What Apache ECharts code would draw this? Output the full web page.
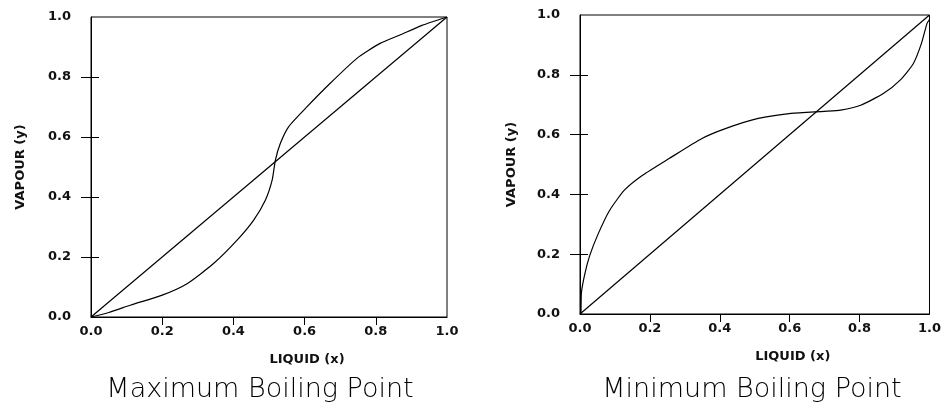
<!DOCTYPE html>
<html>
<head>
<meta charset="utf-8">
<script src="https://cdn.jsdelivr.net/npm/echarts@6/dist/echarts.min.js"></script>
<style>html,body{margin:0;padding:0;background:#fff;}#c{width:944px;height:411px;}</style>
</head>
<body>
<div id="c"></div>
<script>
// ---- data ----
const tickValues = [0, 0.2, 0.4, 0.6, 0.8, 1.0];
const diagonalX = [0, 1];
const diagonalY = [0, 1];
// Maximum boiling point (left)
const maxX = [0, 0.05, 0.112, 0.2, 0.271, 0.345, 0.411, 0.457, 0.49, 0.509, 0.518, 0.532, 0.555, 0.607, 0.672, 0.747, 0.812, 0.868, 0.93, 1];
const maxY = [0, 0.015, 0.04, 0.073, 0.112, 0.179, 0.257, 0.323, 0.39, 0.457, 0.523, 0.579, 0.634, 0.701, 0.779, 0.862, 0.912, 0.94, 0.972, 1];
// Minimum boiling point (right)
const minX = [0.003, 0.004, 0.014, 0.028, 0.052, 0.085, 0.127, 0.179, 0.255, 0.349, 0.416, 0.51, 0.604, 0.699, 0.746, 0.803, 0.869, 0.916, 0.954, 0.977, 0.993, 1];
const minY = [0, 0.07, 0.135, 0.196, 0.268, 0.347, 0.414, 0.464, 0.52, 0.587, 0.62, 0.654, 0.671, 0.678, 0.682, 0.698, 0.738, 0.782, 0.838, 0.905, 0.972, 0.985];
const titles = ['Maximum Boiling Point', 'Minimum Boiling Point'];
const xName = 'LIQUID (x)';
const yName = 'VAPOUR (y)';

const zip = (a, b) => a.map((v, i) => [v, b[i]]);
const FONT = 'DejaVu Sans';
const innerTicks = [0.2, 0.4, 0.6, 0.8];

function xAxes(gi, nameShift) {
  return [{
    type: 'value', gridIndex: gi, min: 0, max: 1, interval: 0.2,
    axisLine: {lineStyle: {color: '#000', width: 1}},
    axisTick: {show: true, inside: false, length: 4, customValues: innerTicks, lineStyle: {color: '#000'}},
    axisLabel: {color: '#111', fontFamily: FONT, fontSize: 13, fontWeight: 'bold', margin: 8,
      formatter: v => v.toFixed(1)},
    splitLine: {show: false},
    name: xName, nameLocation: 'middle', nameGap: 36,
    nameTextStyle: {color: '#111', fontFamily: FONT, fontSize: 13, fontWeight: 'bold', padding: [0, 0, 0, nameShift]}
  }, {
    type: 'value', gridIndex: gi, min: 0, max: 1, interval: 0.2,
    axisLine: {show: false},
    axisTick: {show: true, inside: true, length: 8, customValues: innerTicks, lineStyle: {color: '#000'}},
    axisLabel: {show: false}, splitLine: {show: false}
  }];
}
function yAxes(gi, gap) {
  return [{
    type: 'value', gridIndex: gi, min: 0, max: 1, interval: 0.2, position: 'left',
    axisLine: {show: true, lineStyle: {color: '#000', width: 1}},
    axisTick: {show: true, inside: false, length: 10, customValues: innerTicks, lineStyle: {color: '#000'}},
    axisLabel: {color: '#111', fontFamily: FONT, fontSize: 13, fontWeight: 'bold', margin: 20,
      formatter: v => v.toFixed(1)},
    splitLine: {show: false},
    name: yName, nameLocation: 'middle', nameGap: gap, nameRotate: 90,
    nameTextStyle: {color: '#111', fontFamily: FONT, fontSize: 13, fontWeight: 'bold'}
  }, {
    type: 'value', gridIndex: gi, min: 0, max: 1, interval: 0.2, position: 'left',
    axisLine: {show: false},
    axisTick: {show: true, inside: true, length: 8, customValues: innerTicks, lineStyle: {color: '#000'}},
    axisLabel: {show: false}, splitLine: {show: false}
  }];
}

const lineStyle = {color: '#000', width: 1.2};
const chart = echarts.init(document.getElementById('c'), null, {renderer: 'canvas'});
chart.setOption({
  animation: false,
  backgroundColor: '#fff',
  grid: [
    {left: 91, top: 17, width: 356, height: 300, show: true, borderColor: '#000', borderWidth: 1, backgroundColor: 'transparent'},
    {left: 580, top: 15, width: 353, height: 299, show: true, borderColor: '#000', borderWidth: 1, backgroundColor: 'transparent'}
  ],
  xAxis: [...xAxes(0, 76), ...xAxes(1, 76)],
  yAxis: [...yAxes(0, 64), ...yAxes(1, 62)],
  series: [
    {type: 'line', xAxisIndex: 0, yAxisIndex: 0, data: zip(diagonalX, diagonalY), showSymbol: false, lineStyle},
    {type: 'line', xAxisIndex: 0, yAxisIndex: 0, data: zip(maxX, maxY), showSymbol: false, smooth: 0.2, lineStyle},
    {type: 'line', xAxisIndex: 2, yAxisIndex: 2, data: zip(diagonalX, diagonalY), showSymbol: false, lineStyle},
    {type: 'line', xAxisIndex: 2, yAxisIndex: 2, data: zip(minX, minY), showSymbol: false, smooth: 0.2, lineStyle}
  ],
  graphic: [
    {type: 'text', x: 260, y: 390, style: {text: titles[0], fill: '#000', font: '300 27px "DejaVu Sans"', textAlign: 'center', textVerticalAlign: 'middle'}},
    {type: 'text', x: 752, y: 390, style: {text: titles[1], fill: '#000', font: '300 27px "DejaVu Sans"', textAlign: 'center', textVerticalAlign: 'middle'}}
  ]
});
</script>
</body>
</html>
